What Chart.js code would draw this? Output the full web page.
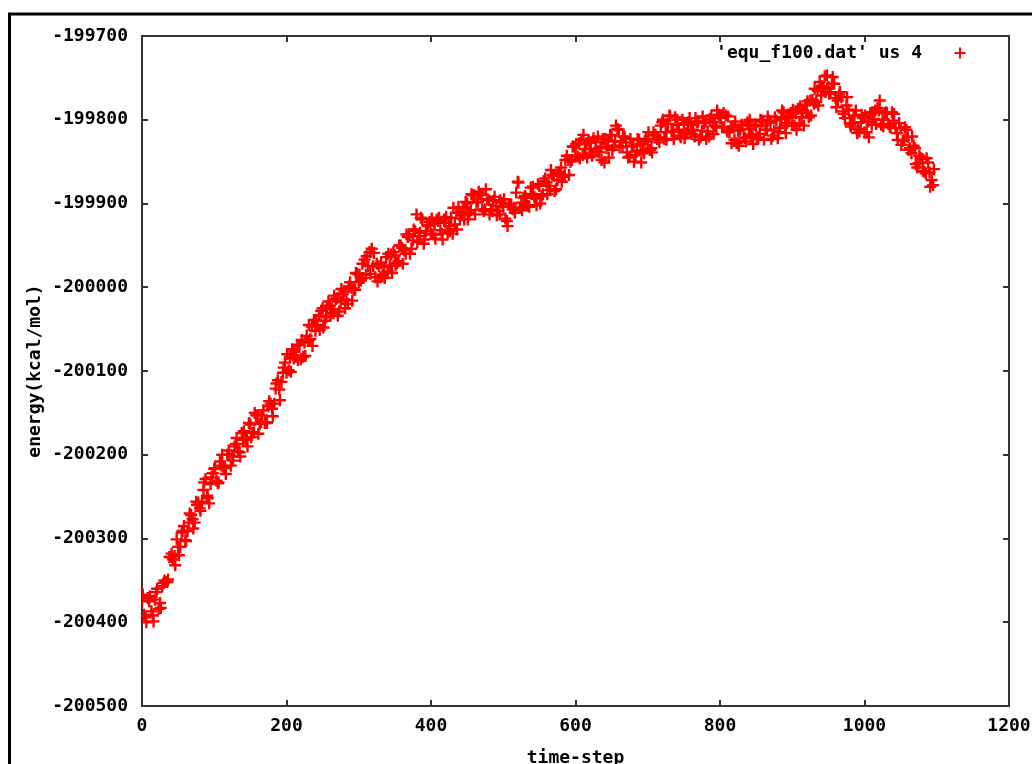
<!DOCTYPE html>
<html>
<head>
<meta charset="utf-8">
<title>equ_f100.dat</title>
<script src="https://cdn.jsdelivr.net/npm/chart.js@4.4.1/dist/chart.umd.min.js"></script>
<style>
    html, body { margin: 0; padding: 0; background: #fff; }
    canvas { display: block; }
</style>
</head>
<body>
<canvas id="energyChart" width="1032" height="764"></canvas>
<script>
// time-steps, first set
const timeStepsA = [
    0, 5, 10, 15, 20, 25, 30, 35, 40, 45,
    50, 55, 60, 65, 70, 75, 80, 85, 90, 95,
    100, 105, 110, 115, 120, 125, 130, 135, 140, 145,
    150, 155, 160, 165, 170, 175, 180, 185, 190, 195,
    200, 205, 210, 215, 220, 225, 230, 235, 240, 245,
    250, 255, 260, 265, 270, 275, 280, 285, 290, 295,
    300, 305, 310, 315, 320, 325, 330, 335, 340, 345,
    350, 355, 360, 365, 370, 375, 380, 385, 390, 395,
    400, 405, 410, 415, 420, 425, 430, 435, 440, 445,
    450, 455, 460, 465, 470, 475, 480, 485, 490, 495,
    500, 505, 510, 515, 520, 525, 530, 535, 540, 545,
    550, 555, 560, 565, 570, 575, 580, 585, 590, 595,
    600, 605, 610, 615, 620, 625, 630, 635, 640, 645,
    650, 655, 660, 665, 670, 675, 680, 685, 690, 695,
    700, 705, 710, 715, 720, 725, 730, 735, 740, 745,
    750, 755, 760, 765, 770, 775, 780, 785, 790, 795,
    800, 805, 810, 815, 820, 825, 830, 835, 840, 845,
    850, 855, 860, 865, 870, 875, 880, 885, 890, 895,
    900, 905, 910, 915, 920, 925, 930, 935, 940, 945,
    950, 955, 960, 965, 970, 975, 980, 985, 990, 995,
    1000, 1005, 1010, 1015, 1020, 1025, 1030, 1035, 1040, 1045,
    1050, 1055, 1060, 1065, 1070, 1075, 1080, 1085, 1090, 1095
];

// energy (kcal/mol) at timeStepsA
const energyA = [
    -200374, -200394, -200375, -200392, -200364, -200377, -200353, -200352, -200322, -200321,
    -200310, -200293, -200302, -200281, -200277, -200256, -200264, -200242, -200249, -200235,
    -200217, -200234, -200213, -200216, -200195, -200202, -200187, -200197, -200182, -200182,
    -200164, -200173, -200153, -200161, -200162, -200142, -200145, -200121, -200122, -200102,
    -200102, -200083, -200085, -200069, -200086, -200066, -200064, -200047, -200052, -200034,
    -200025, -200036, -200022, -200031, -200013, -200017, -200005, -200020, -200001, -200003,
    -199994, -199972, -199985, -199958, -199975, -199972, -199988, -199976, -199981, -199961,
    -199962, -199969, -199953, -199960, -199937, -199944, -199913, -199935, -199948, -199926,
    -199936, -199924, -199921, -199936, -199923, -199927, -199936, -199911, -199918, -199905,
    -199900, -199908, -199890, -199898, -199890, -199907, -199896, -199909, -199903, -199913,
    -199904, -199921, -199904, -199905, -199874, -199899, -199891, -199903, -199889, -199894,
    -199879, -199889, -199875, -199884, -199867, -199872, -199857, -199866, -199848, -199848,
    -199843, -199828, -199842, -199828, -199835, -199822, -199838, -199832, -199851, -199825,
    -199819, -199826, -199812, -199832, -199827, -199844, -199831, -199838, -199829, -199840,
    -199826, -199834, -199818, -199821, -199803, -199815, -199795, -199814, -199806, -199819,
    -199804, -199815, -199806, -199820, -199802, -199813, -199802, -199820, -199803, -199809,
    -199798, -199792, -199814, -199809, -199824, -199813, -199806, -199822, -199811, -199820,
    -199808, -199817, -199802, -199812, -199804, -199813, -199822, -199799, -199807, -199795,
    -199804, -199792, -199805, -199789, -199792, -199777, -199781, -199765, -199771, -199748,
    -199761, -199757, -199774, -199770, -199790, -199783, -199805, -199796, -199816, -199803,
    -199815, -199802, -199806, -199789, -199789, -199800, -199791, -199808, -199801, -199816,
    -199810, -199824, -199821, -199840, -199834, -199852, -199847, -199864, -199863, -199878
];

// time-steps, second set
const timeStepsB = [
    3, 8, 13, 18, 23, 28, 33, 38, 43, 48,
    53, 58, 63, 68, 73, 78, 83, 88, 93, 98,
    103, 108, 113, 118, 123, 128, 133, 138, 143, 148,
    153, 158, 163, 168, 173, 178, 183, 188, 193, 198,
    203, 208, 213, 218, 223, 228, 233, 238, 243, 248,
    253, 258, 263, 268, 273, 278, 283, 288, 293, 298,
    303, 308, 313, 318, 323, 328, 333, 338, 343, 348,
    353, 358, 363, 368, 373, 378, 383, 388, 393, 398,
    403, 408, 413, 418, 423, 428, 433, 438, 443, 448,
    453, 458, 463, 468, 473, 478, 483, 488, 493, 498,
    503, 508, 513, 518, 523, 528, 533, 538, 543, 548,
    553, 558, 563, 568, 573, 578, 583, 588, 593, 598,
    603, 608, 613, 618, 623, 628, 633, 638, 643, 648,
    653, 658, 663, 668, 673, 678, 683, 688, 693, 698,
    703, 708, 713, 718, 723, 728, 733, 738, 743, 748,
    753, 758, 763, 768, 773, 778, 783, 788, 793, 798,
    803, 808, 813, 818, 823, 828, 833, 838, 843, 848,
    853, 858, 863, 868, 873, 878, 883, 888, 893, 898,
    903, 908, 913, 918, 923, 928, 933, 938, 943, 948,
    953, 958, 963, 968, 973, 978, 983, 988, 993, 998,
    1003, 1008, 1013, 1018, 1023, 1028, 1033, 1038, 1043, 1048,
    1053, 1058, 1063, 1068, 1073, 1078, 1083, 1088, 1093
];

// energy (kcal/mol) at timeStepsB
const energyB = [
    -200391, -200371, -200387, -200373, -200384, -200357, -200352, -200322, -200325, -200301,
    -200310, -200285, -200291, -200272, -200281, -200257, -200256, -200229, -200258, -200222,
    -200231, -200208, -200215, -200200, -200213, -200190, -200196, -200174, -200181, -200162,
    -200174, -200153, -200163, -200147, -200162, -200139, -200139, -200111, -200113, -200090,
    -200099, -200074, -200083, -200069, -200083, -200058, -200062, -200039, -200045, -200028,
    -200040, -200017, -200026, -200014, -200029, -200008, -200015, -199994, -200003, -199984,
    -199992, -199967, -199975, -199954, -199988, -199975, -199985, -199964, -199974, -199958,
    -199971, -199950, -199956, -199940, -199954, -199933, -199939, -199919, -199933, -199922,
    -199937, -199919, -199932, -199919, -199935, -199917, -199925, -199904, -199914, -199898,
    -199911, -199890, -199899, -199889, -199909, -199895, -199907, -199892, -199909, -199899,
    -199918, -199901, -199907, -199887, -199905, -199893, -199902, -199881, -199892, -199877,
    -199891, -199870, -199879, -199866, -199883, -199863, -199868, -199843, -199850, -199832,
    -199844, -199824, -199835, -199825, -199843, -199827, -199839, -199823, -199834, -199818,
    -199831, -199811, -199826, -199821, -199845, -199832, -199842, -199824, -199837, -199823,
    -199836, -199815, -199823, -199807, -199823, -199805, -199814, -199797, -199812, -199800,
    -199816, -199798, -199812, -199803, -199821, -199804, -199814, -199795, -199807, -199794,
    -199809, -199795, -199815, -199808, -199828, -199812, -199821, -199803, -199818, -199806,
    -199821, -199801, -199812, -199801, -199819, -199801, -199810, -199791, -199804, -199792,
    -199807, -199787, -199797, -199782, -199797, -199776, -199779, -199755, -199763, -199747,
    -199767, -199757, -199777, -199773, -199798, -199788, -199804, -199789, -199814, -199798,
    -199815, -199792, -199799, -199786, -199806, -199792, -199805, -199791, -199810, -199804,
    -199825, -199812, -199834, -199831, -199857, -199846, -199862, -199851, -199872
];

// time-steps, third set
const timeStepsC = [
    1, 6, 11, 16, 21, 26, 31, 36, 41, 46,
    51, 56, 61, 66, 71, 76, 81, 86, 91, 96,
    101, 106, 111, 116, 121, 126, 131, 136, 141, 146,
    151, 156, 161, 166, 171, 176, 181, 186, 191, 196,
    201, 206, 211, 216, 221, 226, 231, 236, 241, 246,
    251, 256, 261, 266, 271, 276, 281, 286, 291, 296,
    301, 306, 311, 316, 321, 326, 331, 336, 341, 346,
    351, 356, 361, 366, 371, 376, 381, 386, 391, 396,
    401, 406, 411, 416, 421, 426, 431, 436, 441, 446,
    451, 456, 461, 466, 471, 476, 481, 486, 491, 496,
    501, 506, 511, 516, 521, 526, 531, 536, 541, 546,
    551, 556, 561, 566, 571, 576, 581, 586, 591, 596,
    601, 606, 611, 616, 621, 626, 631, 636, 641, 646,
    651, 656, 661, 666, 671, 676, 681, 686, 691, 696,
    701, 706, 711, 716, 721, 726, 731, 736, 741, 746,
    751, 756, 761, 766, 771, 776, 781, 786, 791, 796,
    801, 806, 811, 816, 821, 826, 831, 836, 841, 846,
    851, 856, 861, 866, 871, 876, 881, 886, 891, 896,
    901, 906, 911, 916, 921, 926, 931, 936, 941, 946,
    951, 956, 961, 966, 971, 976, 981, 986, 991, 996,
    1001, 1006, 1011, 1016, 1021, 1026, 1031, 1036, 1041, 1046,
    1051, 1056, 1061, 1066, 1071, 1076, 1081, 1086, 1091, 1096
];

// energy (kcal/mol) at timeStepsC
const energyC = [
    -200367, -200400, -200369, -200399, -200360, -200383, -200350, -200349, -200318, -200332,
    -200320, -200291, -200303, -200270, -200288, -200260, -200267, -200233, -200252, -200227,
    -200216, -200233, -200200, -200223, -200200, -200207, -200180, -200202, -200172, -200190,
    -200179, -200150, -200175, -200153, -200161, -200136, -200154, -200115, -200135, -200096,
    -200080, -200101, -200077, -200087, -200063, -200082, -200045, -200070, -200039, -200051,
    -200048, -200025, -200034, -200010, -200034, -200002, -200025, -199999, -200016, -199983,
    -199985, -199989, -199963, -199984, -199959, -199993, -199971, -199989, -199960, -199983,
    -199974, -199950, -199972, -199937, -199960, -199931, -199946, -199917, -199943, -199927,
    -199918, -199942, -199917, -199943, -199916, -199933, -199905, -199931, -199910, -199919,
    -199919, -199889, -199913, -199886, -199907, -199883, -199913, -199897, -199914, -199896,
    -199895, -199927, -199901, -199911, -199875, -199908, -199893, -199904, -199880, -199902,
    -199900, -199873, -199889, -199860, -199885, -199865, -199874, -199848, -199866, -199832,
    -199829, -199846, -199818, -199845, -199827, -199839, -199820, -199848, -199823, -199845,
    -199836, -199807, -199833, -199820, -199839, -199823, -199850, -199823, -199851, -199825,
    -199815, -199839, -199819, -199827, -199800, -199824, -199796, -199823, -199800, -199821,
    -199822, -199803, -199817, -199798, -199824, -199796, -199823, -199799, -199817, -199789,
    -199797, -199809, -199796, -199828, -199802, -199831, -199807, -199826, -199800, -199829,
    -199823, -199800, -199824, -199796, -199823, -199797, -199815, -199789, -199816, -199797,
    -199788, -199812, -199784, -199807, -199778, -199795, -199763, -199783, -199760, -199767,
    -199769, -199749, -199785, -199767, -199793, -199773, -199808, -199795, -199811, -199794,
    -199795, -199821, -199791, -199805, -199777, -199808, -199792, -199809, -199793, -199824,
    -199830, -199809, -199836, -199820, -199853, -199843, -199861, -199846, -199880, -199859
];

const seriesLabel = "'equ_f100.dat' us 4";
const xTickStep = 200;
const yTickStep = 100;

const axisFont = { family: "'DejaVu Sans Mono', monospace", size: 18, weight: 'bold' };
const axisLine = '#333';

// gnuplot style frame around the whole picture
const outerFrame = {
    id: 'outerFrame',
    beforeDraw(chart) {
        const ctx = chart.ctx;
        ctx.save();
        ctx.fillStyle = '#fff';
        ctx.fillRect(0, 0, chart.width, chart.height);
        ctx.strokeStyle = '#000';
        ctx.lineWidth = 3;
        ctx.strokeRect(9.5, 14, chart.width + 20, chart.height + 20);
        ctx.restore();
    }
};

// key in the upper right corner: text first, then the symbol
const gnuplotKey = {
    id: 'gnuplotKey',
    afterDraw(chart) {
        const ctx = chart.ctx;
        const area = chart.chartArea;
        const ds = chart.data.datasets[0];
        const y = area.top + 17;
        ctx.save();
        ctx.font = 'bold 18px "DejaVu Sans Mono", monospace';
        ctx.fillStyle = '#000';
        ctx.textAlign = 'right';
        ctx.textBaseline = 'middle';
        ctx.fillText(ds.label, area.right - 87, y);
        ctx.strokeStyle = ds.borderColor;
        ctx.lineWidth = 2;
        Chart.helpers.drawPoint(ctx, { pointStyle: 'cross', radius: 5.5, rotation: 0, borderWidth: 2 }, area.right - 49, y);
        ctx.restore();
    }
};

// fixed axis sizes so the plot box sits where gnuplot put it
const fixWidth = w => scale => { scale.width = w; };
const fixHeight = h => scale => {
    scale.height = h;
    scale.paddingLeft = 0;
    scale.paddingRight = 0;
};

const toPoints = (xs, ys) => xs.map((t, i) => ({ x: t, y: ys[i] }));
const points = toPoints(timeStepsA, energyA)
    .concat(toPoints(timeStepsB, energyB), toPoints(timeStepsC, energyC))
    .sort((a, b) => a.x - b.x);

const ctx = document.getElementById('energyChart').getContext('2d');
const energyChart = new Chart(ctx, {
    type: 'scatter',
    data: {
        datasets: [{
            label: seriesLabel,
            data: points,
            pointStyle: 'cross',
            pointRadius: 6,
            borderColor: 'rgb(255, 0, 0)',
            backgroundColor: 'rgb(255, 0, 0)',
            borderWidth: 2.4,
            showLine: false
        }]
    },
    options: {
        responsive: false,
        animation: false,
        events: [],
        layout: {
            padding: { left: 0, top: 36, right: 23, bottom: 0 }
        },
        plugins: {
            legend: { display: false },
            tooltip: { enabled: false }
        },
        scales: {
            x: {
                type: 'linear',
                position: 'bottom',
                min: 0,
                max: 1200,
                afterFit: fixHeight(58),
                border: { display: true, color: axisLine, width: 2 },
                grid: { drawOnChartArea: false, drawTicks: true, tickLength: -6, color: axisLine, lineWidth: 2 },
                ticks: {
                    stepSize: xTickStep,
                    padding: 16,
                    color: '#000',
                    font: axisFont,
                    maxRotation: 0,
                    callback: v => String(v)
                },
                title: {
                    display: true,
                    text: 'time-step',
                    color: '#000',
                    font: { family: axisFont.family, size: 18, weight: 'bold', lineHeight: 1 },
                    padding: { top: 0, bottom: -3 }
                }
            },
            x2: {
                type: 'linear',
                position: 'top',
                min: 0,
                max: 1200,
                afterFit: fixHeight(0),
                border: { display: true, color: axisLine, width: 2 },
                grid: { drawOnChartArea: false, drawTicks: true, tickLength: -6, color: axisLine, lineWidth: 2 },
                ticks: { stepSize: xTickStep, display: false }
            },
            y: {
                type: 'linear',
                position: 'left',
                min: -200500,
                max: -199700,
                afterFit: fixWidth(142),
                border: { display: true, color: axisLine, width: 2 },
                grid: { drawOnChartArea: false, drawTicks: true, tickLength: -6, color: axisLine, lineWidth: 2 },
                ticks: {
                    stepSize: yTickStep,
                    padding: 20,
                    color: '#000',
                    font: axisFont,
                    callback: v => String(v)
                },
                title: {
                    display: true,
                    text: 'energy(kcal/mol)',
                    color: '#000',
                    font: { family: axisFont.family, size: 18, weight: 'bold', lineHeight: 1 },
                    padding: { top: 26, bottom: 0 }
                }
            },
            y2: {
                type: 'linear',
                position: 'right',
                min: -200500,
                max: -199700,
                afterFit: fixWidth(0),
                border: { display: true, color: axisLine, width: 2 },
                grid: { drawOnChartArea: false, drawTicks: true, tickLength: -6, color: axisLine, lineWidth: 2 },
                ticks: { stepSize: yTickStep, display: false }
            }
        }
    },
    plugins: [outerFrame, gnuplotKey]
});
</script>
</body>
</html>
